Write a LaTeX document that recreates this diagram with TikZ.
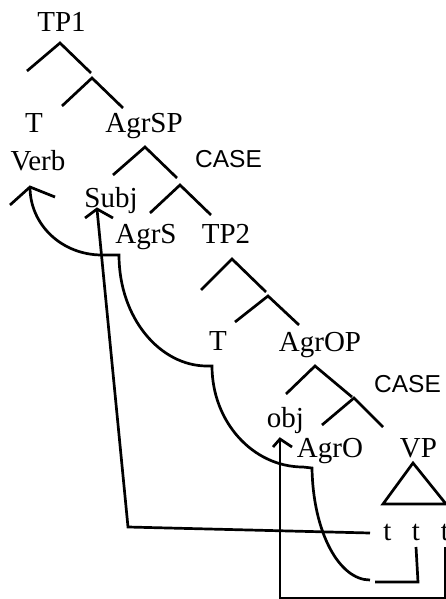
\documentclass[tikz,border=0pt]{standalone}
\usepackage{fontspec}
\setmainfont{Liberation Serif}
\newfontfamily\casefont{Liberation Sans}
\begin{document}
\begin{tikzpicture}[x=1pt,y=-1pt,
  lab/.style={anchor=base, inner sep=0pt, font=\fontsize{29}{32}\selectfont},
  cas/.style={anchor=base, inner sep=0pt, font=\casefont\fontsize{24.5}{28}\selectfont},
  ln/.style={line width=2.7pt, line join=miter},
  caret/.style={ln}]
\useasboundingbox (0,0) rectangle (446,599);
% labels
\node[lab] (tp1) at (61.5,32) {TP1};
\node[lab] (t1) at (34,132) {T};
\node[lab] (agrsp) at (144,132) {AgrSP};
\node[lab] (verb) at (38,170) {Verb};
\node[cas] (case1) at (228.5,167) {CASE};
\node[lab] (subj) at (111,207) {Subj};
\node[lab] (agrs) at (146,243) {AgrS};
\node[lab] (tp2) at (226,243) {TP2};
\node[lab] (t2) at (218,350) {T};
\node[lab] (agrop) at (320,351) {AgrOP};
\node[cas] (case2) at (407.5,392) {CASE};
\node[lab] (obj) at (285.5,427) {obj};
\node[lab] (agro) at (330,457) {AgrO};
\node[lab] (vp) at (418.5,457) {VP};
\node[lab] (ta) at (387.5,540) {t};
\node[lab] (tb) at (416,540) {t};
\node[lab] (tc) at (445,540) {t};
% tree carets
\draw[caret] (27,71) -- (60,43) -- (91,73);
\draw[caret] (62,106) -- (92,78) -- (123,108);
\draw[caret] (113,175) -- (145,147) -- (177,178);
\draw[caret] (150,213) -- (180,185) -- (211,215);
\draw[caret] (201,290) -- (232,259) -- (266,292);
\draw[caret] (235,322) -- (268,296) -- (299,325);
\draw[caret] (286,394) -- (315,366) -- (352,397);
\draw[caret] (322,425) -- (354,398) -- (383,427);
% VP triangle
\draw[ln] (383,504) -- (413,463) -- (446,504) -- cycle;
% verb chain
\coordinate (vhead) at (30,187);
\draw[ln] (vhead) .. controls (30,225) and (62,255) .. (102,255) -- (119,255)
  .. controls (119,318) and (160,366) .. (207,366) -- (212,366)
  .. controls (212,422) and (253,467) .. (303,467) -- (312,468)
  .. controls (313,532) and (339,580) .. (370,580);
\draw[ln] (375,582) -- (418,582) -- (416,547);
\draw[ln] (10,205) -- (vhead) -- (55,197);
% subject chain
\coordinate (shead) at (97,209);
\draw[ln] (370,533) -- (128,527) -- (shead);
\draw[ln] (85,218) -- (shead) -- (113,218);
% object chain
\coordinate (ohead) at (280,439);
\draw[ln] (445,547) -- (445,598) -- (280,598) -- (ohead);
\draw[ln] (273,447) -- (ohead) -- (292,447);
\end{tikzpicture}
\end{document}
